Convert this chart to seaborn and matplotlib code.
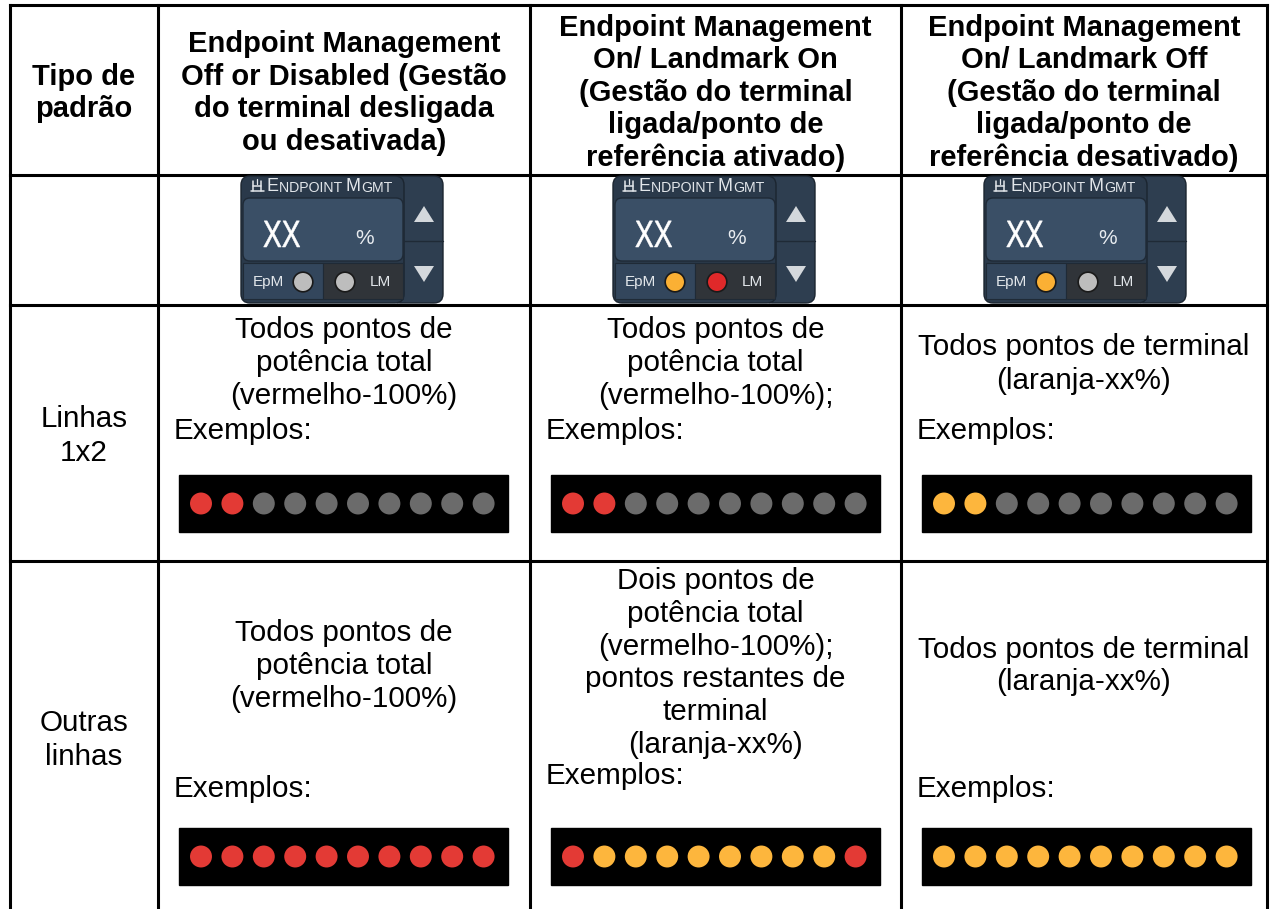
import numpy as np
import pandas as pd
import matplotlib
matplotlib.use("Agg")
import matplotlib.pyplot as plt
from matplotlib.patches import FancyBboxPatch, Rectangle, Polygon, PathPatch
from matplotlib.textpath import TextPath
from matplotlib.font_manager import FontProperties
from matplotlib.transforms import Affine2D
import seaborn as sns

sns.set_style("white")
plt.rcParams['font.family'] = ['Liberation Sans', 'DejaVu Sans']
plt.rcParams['text.color'] = 'black'

# ---- table content ----
col_headers = [
    "Tipo de\npadrão",
    "Endpoint Management\nOff or Disabled (Gestão\ndo terminal desligada\nou desativada)",
    "Endpoint Management\nOn/ Landmark On\n(Gestão do terminal\nligada/ponto de\nreferência ativado)",
    "Endpoint Management\nOn/ Landmark Off\n(Gestão do terminal\nligada/ponto de\nreferência desativado)",
]
row_labels = ["Linhas\n1x2", "Outras\nlinhas"]
desc_1x2 = [
    "Todos pontos de\npotência total\n(vermelho-100%)",
    "Todos pontos de\npotência total\n(vermelho-100%);",
    "Todos pontos de terminal\n(laranja-xx%)",
]
desc_outras = [
    "Todos pontos de\npotência total\n(vermelho-100%)",
    "Dois pontos de\npotência total\n(vermelho-100%);\npontos restantes de\nterminal\n(laranja-xx%)",
    "Todos pontos de terminal\n(laranja-xx%)",
]
example_label = "Exemplos:"

# LED states per column: R = red (100%), O = orange (xx%), G = off
leds_1x2 = ["RRGGGGGGGG", "RRGGGGGGGG", "OOGGGGGGGG"]
leds_outras = ["RRRRRRRRRR", "ROOOOOOOOR", "OOOOOOOOOO"]
# widget indicator states per column
widget_epm = ["off", "orange", "orange"]
widget_lm = ["off", "red", "off"]

led_colors = {"R": "#e33a35", "O": "#fdb63d", "G": "#6b6b6b"}
ind_colors = {"off": "#bdbdbd", "orange": "#fbb034", "red": "#e0292a"}

# ---- layout ----
W, H = 1270, 909
col_x = [10, 158, 530, 901, 1267]
row_y = [5, 175, 305, 561, 909]

fig = plt.figure(figsize=(W / 100, H / 100), dpi=100)
ax = fig.add_axes([0, 0, 1, 1])
ax.set_xlim(0, W)
ax.set_ylim(H, 0)
ax.axis("off")

# grid lines
for x in col_x:
    ax.plot([x, x], [row_y[0], row_y[-1]], color="black", lw=2.2, solid_capstyle="projecting")
for y in row_y[:-1]:
    ax.plot([col_x[0], col_x[-1]], [y, y], color="black", lw=2.2, solid_capstyle="projecting")

fs_head = 21
fs = 21.3
# header row
for i, txt in enumerate(col_headers):
    cx = (col_x[i] + col_x[i + 1]) / 2
    ax.text(cx, 93, txt, ha="center", va="center", fontsize=fs_head, fontweight="bold",
            linespacing=1.2)

# row labels
ax.text(84, 436, row_labels[0], ha="center", va="center", fontsize=fs, linespacing=1.26)
ax.text(84, 740, row_labels[1], ha="center", va="center", fontsize=fs, linespacing=1.26)

# descriptions
desc_centers_1x2 = [363, 363, 364]
desc_centers_out = [666, 663, 666]
for i in range(3):
    cx = (col_x[i + 1] + col_x[i + 2]) / 2
    ax.text(cx, desc_centers_1x2[i], desc_1x2[i], ha="center", va="center",
            fontsize=fs, linespacing=1.25)
    ax.text(cx, desc_centers_out[i], desc_outras[i], ha="center", va="center",
            fontsize=fs, linespacing=1.22)
    lx = col_x[i + 1] + 16
    ax.text(lx, 431, example_label, ha="left", va="center", fontsize=fs)
    ax.text(lx, 789 if i != 1 else 776, example_label, ha="left", va="center", fontsize=fs)

# LED strips
strip_w, strip_h = 329, 57
rows = []
for i in range(3):
    x0 = col_x[i + 1] + 21
    for y0, pattern in [(475, leds_1x2[i]), (828, leds_outras[i])]:
        ax.add_patch(Rectangle((x0, y0), strip_w, strip_h, color="black", zorder=2))
        for k, c in enumerate(pattern):
            rows.append({"x": x0 + 22 + k * 31.4, "y": y0 + strip_h / 2, "state": c})
led_df = pd.DataFrame(rows)
sns.scatterplot(data=led_df, x="x", y="y", hue="state", palette=led_colors,
                s=250, edgecolor="none", legend=False, ax=ax, zorder=3)


def rbox(x, y, w, h, fc, r=6, ec="none", lw=0, z=4):
    ax.add_patch(FancyBboxPatch((x + r, y + r), w - 2 * r, h - 2 * r,
                                boxstyle=f"round,pad={r}", fc=fc, ec=ec, lw=lw, zorder=z))


xx_prop = FontProperties(family="Liberation Sans")
wtxt = "#e2e6ea"

# Endpoint Mgmt widgets
ind_rows = []
for i in range(3):
    x0 = col_x[i + 1] + 83
    y0 = 176
    # right arrow column
    rbox(x0 + 150, y0, 52, 127, "#2e3e50", r=9, ec="#1b2530", lw=1)
    # outer body
    rbox(x0, y0, 163, 127, "#2a394a", r=9, ec="#1b2530", lw=1, z=4.5)
    # main panel
    rbox(x0 + 2, y0 + 22, 160, 63, "#3a4f66", r=7, ec="#1f2a36", lw=1, z=5)
    # bottom cells
    ax.add_patch(Rectangle((x0 + 2, y0 + 87), 80, 36, fc="#33465c", ec="#1f2a36", lw=0.8, zorder=5))
    ax.add_patch(Rectangle((x0 + 82, y0 + 87), 80, 36, fc="#303439", ec="#1f2a36", lw=0.8, zorder=5))
    # divider of arrow column
    ax.plot([x0 + 163, x0 + 202], [y0 + 65, y0 + 65], color="#1f2a36", lw=1, zorder=5)
    # arrows
    ax.add_patch(Polygon([[x0 + 173, y0 + 46], [x0 + 193, y0 + 46], [x0 + 183, y0 + 30]],
                         closed=True, fc="#d4d8dc", ec="none", zorder=6))
    ax.add_patch(Polygon([[x0 + 173, y0 + 90], [x0 + 193, y0 + 90], [x0 + 183, y0 + 106]],
                         closed=True, fc="#d4d8dc", ec="none", zorder=6))
    # title (small caps) with icon
    tx, ty = x0 + 12, y0 + 15
    ax.plot([tx, tx], [ty - 10, ty], color=wtxt, lw=1.1, zorder=6)
    ax.plot([tx + 8, tx + 8], [ty - 10, ty], color=wtxt, lw=1.1, zorder=6)
    ax.plot([tx - 2, tx + 11], [ty, ty], color=wtxt, lw=1.1, zorder=6)
    ax.plot([tx, tx + 8], [ty - 5, ty - 5], color=wtxt, lw=1.1, zorder=6)
    ax.plot([tx + 4, tx + 4], [ty - 12, ty - 7], color=wtxt, lw=0.9, zorder=6)
    t = ax.text(tx + 14, ty, "E", color=wtxt, fontsize=13, va="baseline", ha="left", zorder=6)
    for part, size in [("NDPOINT ", 10.2), ("M", 13), ("GMT", 10.2)]:
        t = ax.annotate(part, xy=(1, 0), xycoords=t, color=wtxt, fontsize=size,
                        va="bottom", ha="left", zorder=6)
    # value "XX" in a condensed look
    tp = TextPath((0, 0), "XX", size=38, prop=xx_prop)
    tp = Affine2D().scale(0.74, -1).translate(x0 + 22, y0 + 71).transform_path(tp)
    ax.add_patch(PathPatch(tp, fc="white", ec="white", lw=0.4, zorder=6))
    ax.text(x0 + 124, y0 + 63, "%", color="#e8ecf0", fontsize=15, ha="center", va="center", zorder=6)
    # indicator labels
    ax.text(x0 + 27, y0 + 106, "EpM", color=wtxt, fontsize=11, ha="center", va="center", zorder=6)
    ax.text(x0 + 139, y0 + 106, "LM", color=wtxt, fontsize=11, ha="center", va="center", zorder=6)
    ind_rows.append({"x": x0 + 62, "y": y0 + 106, "state": widget_epm[i]})
    ind_rows.append({"x": x0 + 104, "y": y0 + 106, "state": widget_lm[i]})

ind_df = pd.DataFrame(ind_rows)
sns.scatterplot(data=ind_df, x="x", y="y", hue="state", palette=ind_colors,
                s=200, edgecolor="#1a1a1a", linewidth=1.2, legend=False, ax=ax, zorder=7)

fig.savefig("out.png", dpi=100)
plt.close(fig)
